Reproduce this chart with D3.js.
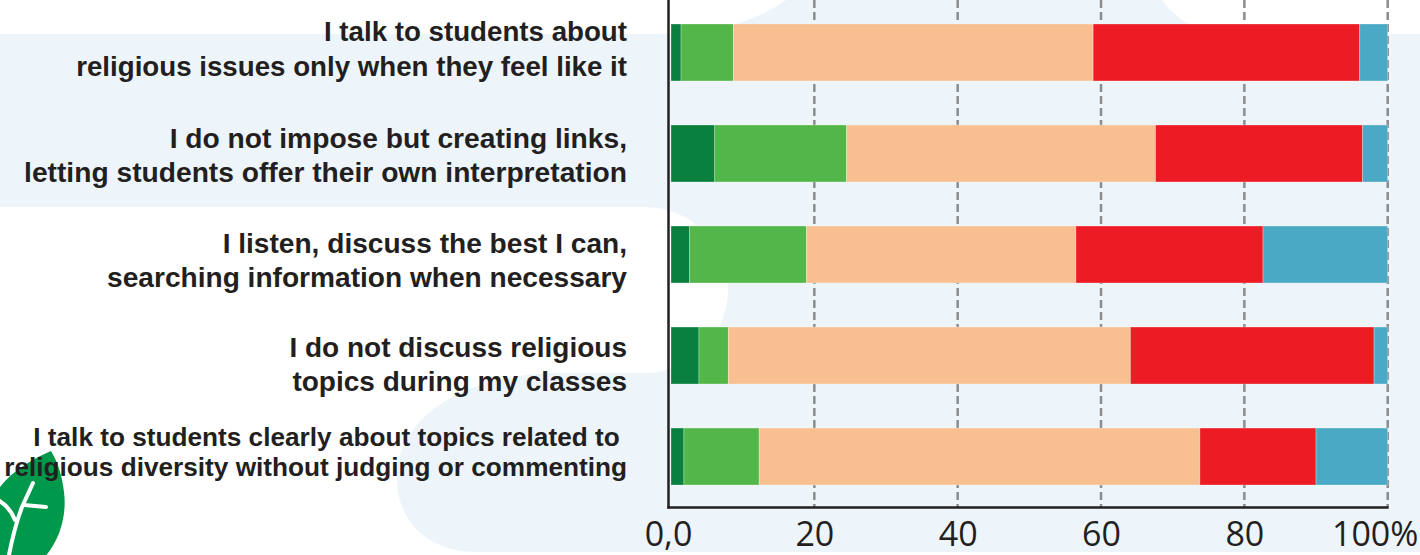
<!DOCTYPE html>
<html>
<head>
<meta charset="utf-8">
<script src="https://cdn.jsdelivr.net/npm/d3@7/dist/d3.min.js"></script>
<style>
  html, body { margin: 0; padding: 0; background: #ffffff; }
  svg { display: block; }
</style>
</head>
<body>
<svg id="chart" width="1420" height="555"></svg>
<script>
// ---------- DATA ----------
const categories = [
  "I talk to students about|religious issues only when they feel like it",
  "I do not impose but creating links,|letting students offer their own interpretation",
  "I listen, discuss the best I can,|searching information when necessary",
  "I do not discuss religious|topics during my classes",
  "I talk to students clearly about topics related to |religious diversity without judging or commenting"
];
const seriesKeys = ["s1", "s2", "s3", "s4", "s5"];
const s1 = [1.4, 6.1, 2.6, 3.9, 1.8];
const s2 = [7.3, 18.4, 16.3, 4.1, 10.5];
const s3 = [50.2, 43.1, 37.6, 56.1, 61.5];
const s4 = [37.2, 28.9, 26.1, 34.0, 16.2];
const s5 = [3.9, 3.5, 17.4, 1.9, 10.0];
const tickValues = [0, 20, 40, 60, 80, 100];
const tickLabels = ["0,0", "20", "40", "60", "80", "100%"];

// ---------- STYLE / LAYOUT ----------
const colors = ["#0a803f", "#52b748", "#f8c090", "#ed1c24", "#4aaac5"];
const labelShift = [6, 12, 15.5, 18.5, 4.5];
const lineGap = [35, 34, 34, 34, 30];
const labelSize = [27.7, 28.2, 28.1, 28, 26.2];

const svg = d3.select("#chart");

// ---------- BACKGROUND DECORATION ----------
const bg = svg.append("g");
bg.append("rect").attr("x", 0).attr("y", 0).attr("width", 1420).attr("height", 552).attr("fill", "#edf5fb");
bg.append("path").attr("fill", "#fff")
  .attr("d", "M0,0 L786,0 C755,22 715,34 650,34 L0,34 Z");
bg.append("path").attr("fill", "#fff")
  .attr("d", "M1162,0 C1178,22 1200,34 1240,34 L1420,34 L1420,0 Z");
bg.append("path").attr("fill", "#fff")
  .attr("d", "M0,207 L645,207 A83,83 0 0 1 645,373 L560,373 C460,373 397,420 397,478 C397,522 428,552 478,552 L0,552 Z");
bg.append("rect").attr("x", 0).attr("y", 552).attr("width", 1420).attr("height", 3).attr("fill", "#fff");

// leaf
const leaf = svg.append("g");
leaf.append("path").attr("fill", "#00984a")
  .attr("d", "M51,451 C32,459 8,473 -4,493 L-4,560 L42,560 C60,542 67,515 64,492 C62,474 57,461 51,451 Z");
leaf.append("path").attr("fill", "none").attr("stroke", "#fff").attr("stroke-width", 4).attr("stroke-linecap", "round")
  .attr("d", "M8,560 Q14,528 22,507 L33,483");
leaf.append("path").attr("fill", "none").attr("stroke", "#fff").attr("stroke-width", 4).attr("stroke-linecap", "round")
  .attr("d", "M24,505 L46,507");
leaf.append("path").attr("fill", "none").attr("stroke", "#fff").attr("stroke-width", 4).attr("stroke-linecap", "round")
  .attr("d", "M-2,500 Q10,507 15,520");

// ---------- SCALES ----------
const x = d3.scaleLinear().domain([0, 100]).range([671, 1387.7]);
const y = d3.scaleBand().domain(categories).range([0, 509]).paddingInner(0.436).paddingOuter(0.2376);

// gridlines
svg.append("g").selectAll("line")
  .data(tickValues.filter(v => v > 0))
  .join("line")
  .attr("x1", d => x(d)).attr("x2", d => x(d))
  .attr("y1", 0).attr("y2", 507)
  .attr("stroke", "#8c8c8c").attr("stroke-width", 2.5)
  .attr("stroke-dasharray", "8,4");

// ---------- BARS ----------
const rows = categories.map((c, i) => ({ cat: c, s1: s1[i], s2: s2[i], s3: s3[i], s4: s4[i], s5: s5[i] }));
const stacked = d3.stack().keys(seriesKeys)(rows);

svg.append("g").selectAll("g")
  .data(stacked)
  .join("g")
  .attr("fill", (d, i) => colors[i])
  .selectAll("rect")
  .data(d => d)
  .join("rect")
  .attr("x", d => x(d[0]))
  .attr("width", d => x(d[1]) - x(d[0]))
  .attr("y", d => y(d.data.cat))
  .attr("height", y.bandwidth())
  .attr("stroke", "rgba(255,255,255,0.35)")
  .attr("stroke-width", 0.8);

// ---------- AXES ----------
const xAxis = d3.axisBottom(x).tickValues(tickValues).tickFormat((d, i) => tickLabels[i]).tickSize(0).tickPadding(0);
const gx = svg.append("g").attr("transform", "translate(0,507.5)").call(xAxis);
gx.select(".domain").remove();
gx.selectAll("text")
  .attr("y", 38.5).attr("dy", 0)
  .attr("font-family", "'Open Sans', sans-serif")
  .attr("font-size", 34)
  .attr("fill", "#231f20")
  .attr("dx", (d, i) => i === tickValues.length - 1 ? -13 : (i === 0 ? -3 : 0));

svg.append("line").attr("x1", 668.5).attr("x2", 668.5).attr("y1", 0).attr("y2", 508.5)
  .attr("stroke", "#231f20").attr("stroke-width", 2.5);
svg.append("line").attr("x1", 667.3).attr("x2", x(100) + 1).attr("y1", 507.5).attr("y2", 507.5)
  .attr("stroke", "#231f20").attr("stroke-width", 2.5);

// ---------- CATEGORY LABELS ----------
const lab = svg.append("g")
  .attr("font-family", "'Liberation Sans', Arial, sans-serif")
  .attr("font-weight", "bold")
  .attr("fill", "#231f20")
  .attr("text-anchor", "end");

categories.forEach((c, i) => {
  const lines = c.split("|");
  const mid = y(c) + y.bandwidth() / 2 + labelShift[i];
  const t = lab.append("text").attr("x", 627).attr("font-size", labelSize[i]);
  lines.forEach((ln, j) => {
    t.append("tspan")
      .attr("x", 627)
      .attr("y", mid + (j - (lines.length - 1) / 2) * lineGap[i])
      .attr("xml:space", "preserve")
      .style("white-space", "pre")
      .text(ln);
  });
});
</script>
</body>
</html>
